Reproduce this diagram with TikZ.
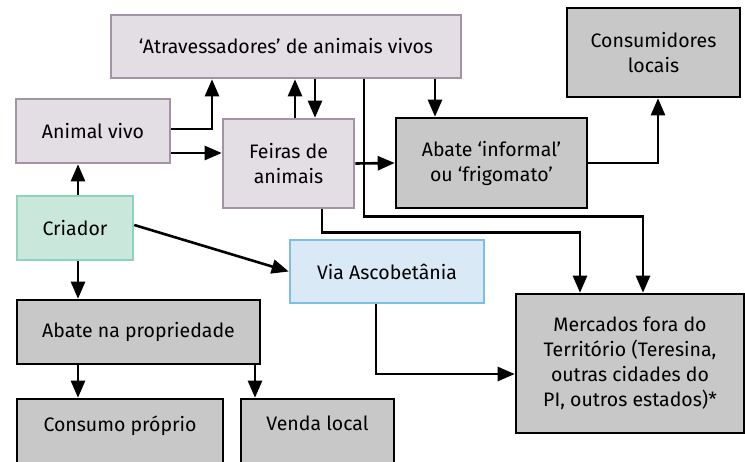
\documentclass[tikz,border=0pt]{standalone}
\usepackage{fontspec}
\setmainfont{Fira Sans}
\usetikzlibrary{arrows.meta}

\definecolor{lilacfill}{HTML}{E3DDE4}
\definecolor{lilacline}{HTML}{A393A6}
\definecolor{greyfill}{HTML}{C8C8C8}
\definecolor{mintfill}{HTML}{C9E7DB}
\definecolor{mintline}{HTML}{8ED3BB}
\definecolor{skyfill}{HTML}{D9E9F5}
\definecolor{skyline}{HTML}{7DBFE3}

\tikzset{
  box/.style={draw, line width=2.6pt, inner sep=0pt, align=center,
    font=\fontsize{19.5}{25}\selectfont},
  lilac/.style={box, fill=lilacfill, draw=lilacline},
  grey/.style={box, fill=greyfill, draw=black},
  mint/.style={box, fill=mintfill, draw=mintline},
  sky/.style={box, fill=skyfill, draw=skyline},
  arr/.style={-{Triangle[length=17pt,width=14pt]}, line width=2.6pt}
}

\begin{document}
\begin{tikzpicture}[x=1pt, y=-1pt]
                \useasboundingbox (0,0) rectangle (745,461);
                \clip (0,0) rectangle (745,461);
                % boxes
                \node[lilac, minimum width=350pt, minimum height=63pt] (atrav) at (286,46.5) {‘Atravessadores’ de animais vivos};
                \node[lilac, minimum width=154pt, minimum height=64pt] (vivo) at (93,131) {Animal vivo};
                \node[lilac, minimum width=131pt, minimum height=89pt] (feiras) at (288.5,163.5) {Feiras de\\animais};
                \node[mint, minimum width=116pt, minimum height=64pt] (criador) at (75,228) {Criador};
                \node[grey, minimum width=191pt, minimum height=90pt] (informal) at (491.5,163) {Abate ‘informal’\\ou ‘frigomato’};
                \node[grey, minimum width=173pt, minimum height=89pt] (consum) at (653.5,52.5) {Consumidores\\locais};
                \node[sky, minimum width=194pt, minimum height=63pt] (via) at (387,271.5) {Via Ascobetânia};
                \node[grey, minimum width=228pt, minimum height=139pt] (mercados) at (630,363.5) {Mercados fora do\\Território (Teresina,\\outras cidades do\\PI, outros estados)*};
                \node[grey, minimum width=243pt, minimum height=64pt] (abprop) at (138.5,332) {Abate na propriedade};
                \node[grey, minimum width=206pt, minimum height=80pt, text depth=31pt] (proprio) at (120,439) {Consumo próprio};
                \node[grey, minimum width=153pt, minimum height=80pt, text depth=31pt] (venda) at (317.5,439) {Venda local};
                % connectors
                \draw[arr] ([yshift=2pt]vivo.east) -| ([xshift=-74pt]atrav.south);
                \draw[arr] ([yshift=-22pt]vivo.east) -- ([yshift=-22pt]vivo.east -| feiras.west);
                \draw[arr] ([xshift=6.5pt]feiras.north) -- ([xshift=6.5pt]feiras.north |- atrav.south);
                \draw[arr] ([xshift=26.5pt]feiras.north |- atrav.south) -- ([xshift=26.5pt]feiras.north);
                \draw[arr] ([xshift=-56.5pt]informal.north |- atrav.south) -- ([xshift=-56.5pt]informal.north);
                \draw[arr] ([xshift=78pt]atrav.south) -- ++(0,137) -| ([xshift=13pt]mercados.north);
                \draw[arr] ([xshift=33.5pt]feiras.south) -- ++(0,23) -| ([xshift=-50pt]mercados.north);
                \draw[arr] (feiras.east) -- (informal.west);
                \draw[arr] (informal.east) -| ([xshift=4.5pt]consum.south);
                \draw[arr] ([xshift=3pt]criador.north) -- ([xshift=3pt]criador.north |- vivo.south);
                \draw[arr] ([yshift=3pt]criador.east) -- (via.west);
                \draw[arr] ([xshift=3pt]criador.south) -- ([xshift=3pt]criador.south |- abprop.north);
                \draw[arr] ([xshift=-11pt]via.south) |- ([yshift=-10.5pt]mercados.west);
                \draw[arr] ([xshift=-60.5pt]abprop.south) -- ([xshift=-60.5pt]abprop.south |- proprio.north);
                \draw[arr] ([xshift=116.5pt]abprop.south) -- ([xshift=116.5pt]abprop.south |- venda.north);
            \end{tikzpicture}
\end{document}
